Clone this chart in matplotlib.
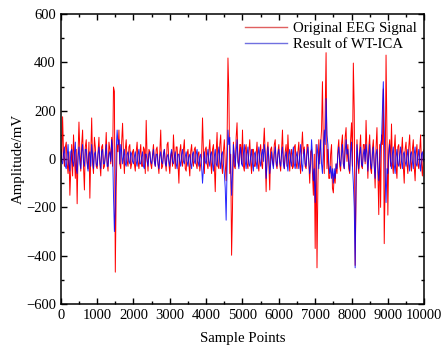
import matplotlib
matplotlib.use("Agg")
import matplotlib.pyplot as plt
import numpy as np
from matplotlib.ticker import MultipleLocator

plt.rcParams['font.family'] = ['Liberation Serif', 'DejaVu Serif']

# values read every 25 samples, 0..10000
step = 25

original_eeg = [
    40, -10, 175, 20, -30, 50, 70, -20, -60, 30, -150, -40, 60, -70, 100, 10, -80, 40, -185, 20,
    153, 30, -50, 60, 120, -30, -128, 50, 80, -10, -40, 70, -162, 20, 170, -20, -60, 90, 50, -30,
    -40, 30, 90, -20, -70, 50, 60, -40, -30, 20, 110, -10, -50, 70, 40, -20, 90, -30, 298, 280,
    -468, -120, 60, 30, 120, -20, -40, 70, 148, 20, -60, 40, 80, -10, -30, 50, 60, -40, -20, 30,
    40, -20, -50, 30, 70, -10, -40, 20, 60, -30, -30, 50, 40, -60, 160, 10, -50, 40, 30, -20,
    -40, 20, 60, -10, -30, 40, 50, -20, -60, 30, 120, -40, -30, 20, 40, -10, -50, 60, 70, -20,
    -60, 10, 30, -30, 100, 20, -40, 50, 50, -20, -100, 30, 60, -10, -30, 40, 80, -40, -50, 20,
    40, -20, -70, 30, 60, -10, -30, 40, 50, -20, -40, 20, 30, -50, -20, 10, 170, 30, -60, 40,
    50, -20, -40, 30, 80, -10, -60, 40, 60, -20, -135, 20, 110, -30, -40, 60, 100, -20, -60, 30,
    80, -20, -90, 60, 418, 270, -60, 20, -398, -200, 70, -30, -40, 90, 150, -10, -30, 60, 60, -20,
    120, -30, -50, 40, 60, -20, -40, 30, 80, -10, -60, 40, 40, -30, -30, 20, 70, -20, -50, 30,
    60, -20, -40, 50, 128, 20, -135, 30, 70, -20, -128, 40, 50, -10, -30, 60, 80, -20, -40, 30,
    60, -20, -50, 40, 120, -10, -40, 30, 60, -30, 100, 10, -50, 20, 40, -40, -30, 50, 60, -20,
    -40, 30, 70, -20, -60, 40, 112, 20, 50, -30, -40, 60, 60, -20, -100, 30, 40, -60, -150, 20,
    -370, 60, -450, -100, 80, -20, 60, 120, 320, 40, -60, 180, 440, -40, 40, -80, -80, 20, 60, -120,
    -140, -60, -100, -20, -60, 40, 80, -30, -50, 60, 100, -20, -40, 90, 130, -10, 60, -40, -60, 80,
    150, -30, 397, 200, -440, -150, 80, -20, -60, 40, 100, -30, -40, 60, 60, -20, 160, 30, -80, 50,
    100, -40, -60, 40, 80, -20, -120, 50, 130, -60, -230, 60, -200, 100, 60, 290, -350, -100, 430, 80,
    -232, 40, 80, -30, 145, -20, -60, 40, 100, -30, -80, 50, 60, -20, -40, 30, 90, -30, -100, 40,
    70, -20, -60, 50, 100, -10, -50, 40, 80, -30, -90, 20, 60, -20, -40, 30, 100, -20, -70, 30,
    40,
]

wt_ica = [
    30, -10, -20, 20, 50, -30, -40, 10, 60, -20, -50, 30, 40, -10, -30, 20, 70, -40, -60, 10,
    50, -20, -40, 30, 60, -10, -30, 40, 40, -20, -50, 20, 30, -30, 60, 10, -40, 20, 30, -20,
    -30, 20, 50, -10, -40, 30, 40, -20, -20, 10, 60, -30, -30, 20, 30, -10, 80, 40, -150, -300,
    -200, 40, 120, 60, 80, -20, 60, 30, -20, 10, 40, -20, -30, 20, 30, -10, -20, 30, 20, -10,
    -20, 10, 30, -10, -30, 20, 40, -20, -20, 10, 30, -30, -40, 20, 20, -10, -30, 20, 30, -10,
    -20, 10, 40, -10, -30, 20, 20, -20, -40, 10, 30, -10, -20, 20, 40, -20, -30, 10, 20, -10,
    -30, 20, 40, -10, -20, 10, 30, -20, -40, 20, 20, -10, -30, 20, 40, -10, -20, 10, 30, -10,
    -30, 10, 20, -20, -40, 20, 30, -10, -20, 20, 40, -10, -30, 10, 20, -30, -100, -40, 30, -10,
    -20, 10, 40, -10, -30, 20, 30, -20, -50, 10, 40, -20, -30, 20, 50, -10, -40, 20, 30, -20,
    -60, -120, -253, -40, 120, 60, 90, -40, -150, -60, 60, 20, -30, 30, 80, -10, -40, 20, 50, -20,
    -30, 20, 60, -10, -40, 20, 50, -20, -30, 10, 40, -20, -50, 20, 30, -10, -40, 20, 50, -10,
    -30, 20, 40, -10, 60, 20, -80, -20, 50, 10, -60, -20, 30, -10, -40, 20, 50, -10, -30, 20,
    40, -10, -30, 20, 50, -20, -40, 10, 30, -20, -50, 20, 40, -10, -30, 20, 50, -20, -40, 10,
    30, -10, -40, 20, 60, -20, -50, 10, 40, -20, -30, 20, 50, -10, -60, -20, 80, 20, -90, -40,
    -180, -60, 60, 20, -40, 30, 80, -20, -60, 40, 120, 60, 250, 100, 60, -20, -60, -30, -80, -40,
    -100, -40, -80, -20, -40, 20, 50, -10, -30, 20, 60, -20, -40, 30, 80, 20, 40, -20, -50, 30,
    70, -30, -100, -200, -450, -60, 60, 10, -40, 20, 50, -20, -30, 20, 40, -10, 60, 20, -50, 10,
    60, -20, -40, 20, 50, -30, -80, 20, 40, -30, -90, -20, 60, 80, 200, 320, 120, -60, -180, -40,
    -60, 20, 60, -10, -40, 20, 50, -20, -60, 10, 40, -20, -30, 20, 50, -10, -40, 20, 30, -10,
    -30, 10, 40, -20, -50, 20, 30, -10, -40, 20, 50, -20, -30, 10, 40, -20, -50, 20, 30, -10,
    20,
]

assert len(original_eeg) == len(wt_ica) == 401
x = np.arange(len(original_eeg)) * step

fig = plt.figure(figsize=(4.47, 3.59), dpi=100)
ax = fig.add_axes([0.136, 0.153, 0.813, 0.808])

red_line, = ax.plot(x, original_eeg, color='#ff0000', lw=0.7)
blue_line, = ax.plot(x, wt_ica, color='#0000ff', lw=0.7, alpha=0.85)

ax.set_xlim(0, 10000)
ax.set_ylim(-600, 600)
ax.xaxis.set_major_locator(MultipleLocator(1000))
ax.xaxis.set_minor_locator(MultipleLocator(500))
ax.yaxis.set_major_locator(MultipleLocator(200))
ax.yaxis.set_minor_locator(MultipleLocator(100))
ax.tick_params(which='both', direction='in', top=True, right=True, labelsize=10.5, width=1.0)
ax.tick_params(which='major', length=4)
ax.tick_params(which='minor', length=2.5)
for s in ax.spines.values():
    s.set_linewidth(1.1)

ax.set_xlabel('Sample Points', fontsize=10.7, labelpad=7)
ax.set_ylabel('Amplitude/mV', fontsize=10.7, labelpad=1)

h1 = plt.Line2D([], [], color='#e06060', lw=1.0)
h2 = plt.Line2D([], [], color='#7070e0', lw=1.0)
ax.legend([h1, h2], ['Original EEG Signal', 'Result of WT-ICA'], loc='upper right',
          frameon=False, fontsize=10.7, handlelength=2.8,
          handletextpad=0.4, borderaxespad=0.1, labelspacing=0.2)

fig.savefig('out.png', dpi=100)
